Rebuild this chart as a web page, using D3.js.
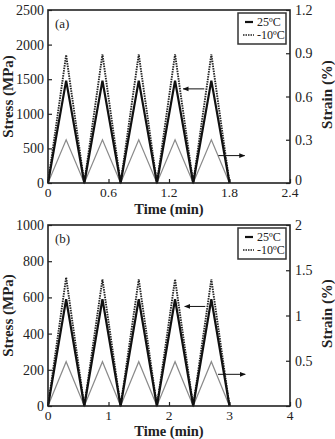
<!DOCTYPE html>
<html>
<head>
<meta charset="utf-8">
<script src="https://cdn.jsdelivr.net/npm/d3@7"></script>
<style>
  body { margin: 0; background: #fff; }
  text { font-family: "Liberation Serif", "DejaVu Serif", serif; fill: #222; }
</style>
</head>
<body>
<div id="chart"></div>
<script>
const width = 335
const height = 439

// panel (a)
const timeA = [0, 0.18, 0.36, 0.54, 0.72, 0.9, 1.08, 1.26, 1.44, 1.62, 1.8]
const stress25A = [0, 1480, 0, 1480, 0, 1480, 0, 1480, 0, 1480, 0]
const stressM10A = [0, 1850, 0, 1860, 0, 1860, 0, 1860, 0, 1860, 0]
const strainA = [0, 0.3, 0, 0.3, 0, 0.3, 0, 0.3, 0, 0.3, 0]
const xTicksA = [0, 0.6, 1.2, 1.8, 2.4]
const yTicksA = [0, 500, 1000, 1500, 2000, 2500]
const y2TicksA = [0, 0.3, 0.6, 0.9, 1.2]

// panel (b)
const timeB = [0, 0.3, 0.6, 0.9, 1.2, 1.5, 1.8, 2.1, 2.4, 2.7, 3.0]
const stress25B = [0, 590, 0, 590, 0, 590, 0, 590, 0, 590, 0]
const stressM10B = [0, 710, 0, 700, 0, 700, 0, 700, 0, 700, 0]
const strainB = [0, 0.49, 0, 0.49, 0, 0.49, 0, 0.49, 0, 0.49, 0]
const xTicksB = [0, 1, 2, 3, 4]
const yTicksB = [0, 200, 400, 600, 800, 1000]
const y2TicksB = [0, 0.5, 1, 1.5, 2]

const legendLabels = ["25ºC", "-10ºC"]

const svg = d3.select("#chart")
    .append("svg")
    .attr("width", width)
    .attr("height", height)

const defs = svg.append("defs")
defs.append("marker")
    .attr("id", "head")
    .attr("viewBox", "0 0 10 10")
    .attr("refX", 9).attr("refY", 5)
    .attr("markerWidth", 6).attr("markerHeight", 6)
    .attr("orient", "auto")
  .append("path")
    .attr("d", "M0,1 L10,5 L0,9 Z")
    .attr("fill", "#111")

function drawPanel(p) {
  const left = 48, right = 290
  const x = d3.scaleLinear().domain([0, p.xMax]).range([left, right])
  const y = d3.scaleLinear().domain([0, p.yMax]).range([p.bottom, p.top])
  const y2 = d3.scaleLinear().domain([0, p.y2Max]).range([p.bottom, p.top])
  const g = svg.append("g")

  // axes, ticks inward
  g.append("g")
    .attr("transform", `translate(0,${p.bottom})`)
    .call(d3.axisTop(x).tickValues(p.xTicks).tickSize(4).tickFormat(""))
  g.append("g")
    .attr("transform", `translate(${left},0)`)
    .call(d3.axisRight(y).tickValues(p.yTicks).tickSize(4).tickFormat(""))
  g.append("g")
    .attr("transform", `translate(${right},0)`)
    .call(d3.axisLeft(y2).tickValues(p.y2Ticks).tickSize(4).tickFormat(""))
  g.selectAll(".domain").remove()
  g.selectAll(".tick line").attr("stroke", "#222").attr("stroke-width", 1.2)

  // tick labels
  g.selectAll(".xl").data(p.xTicks).join("text")
    .attr("x", d => x(d)).attr("y", p.bottom + 14)
    .attr("text-anchor", "middle").attr("font-size", 13.5)
    .text(d => d)
  g.selectAll(".yl").data(p.yTicks).join("text")
    .attr("x", left - 4).attr("y", d => y(d) + 5)
    .attr("text-anchor", "end").attr("font-size", 14)
    .text(d => d)
  g.selectAll(".y2l").data(p.y2Ticks).join("text")
    .attr("x", right + 5).attr("y", d => y2(d) + (d === 0 ? 2 : 5))
    .attr("text-anchor", "start").attr("font-size", 14)
    .text(d => d)

  // titles
  g.append("text")
    .attr("x", (left + right) / 2).attr("y", Math.min(p.bottom + 31, 436))
    .attr("text-anchor", "middle").attr("font-size", 14.5).attr("font-weight", "bold")
    .text("Time (min)")
  g.append("text")
    .attr("transform", `translate(13,${(p.top + p.bottom) / 2}) rotate(-90)`)
    .attr("text-anchor", "middle").attr("font-size", 15).attr("font-weight", "bold")
    .text("Stress (MPa)")
  g.append("text")
    .attr("transform", `translate(332,${(p.top + p.bottom) / 2 - 2}) rotate(-90)`)
    .attr("text-anchor", "middle").attr("font-size", 15).attr("font-weight", "bold")
    .text("Strain (%)")

  // curves
  const line = d3.line().x(d => x(d[0])).y(d => y(d[1]))
  const line2 = d3.line().x(d => x(d[0])).y(d => y2(d[1]))
  g.append("path")
    .attr("d", line2(d3.zip(p.time, p.strain)))
    .attr("fill", "none").attr("stroke", "#8a8a8a").attr("stroke-width", 1.2)
  g.append("path")
    .attr("d", line(d3.zip(p.time, p.stressM10)))
    .attr("fill", "none").attr("stroke", "#222").attr("stroke-width", 1.9)
    .attr("stroke-dasharray", "1.5,1")
  g.append("path")
    .attr("d", line(d3.zip(p.time, p.stress25)))
    .attr("fill", "none").attr("stroke", "#111").attr("stroke-width", 2.2)

  // arrows
  g.append("line")
    .attr("x1", x(p.arrowL[1])).attr("x2", x(p.arrowL[0]))
    .attr("y1", y(p.arrowL[2])).attr("y2", y(p.arrowL[2]))
    .attr("stroke", "#111").attr("stroke-width", 1).attr("marker-end", "url(#head)")
  g.append("line")
    .attr("x1", x(p.arrowR[0])).attr("x2", x(p.arrowR[1]))
    .attr("y1", y2(p.arrowR[2])).attr("y2", y2(p.arrowR[2]))
    .attr("stroke", "#111").attr("stroke-width", 1).attr("marker-end", "url(#head)")

  // frame
  g.append("rect")
    .attr("x", left).attr("y", p.top)
    .attr("width", right - left).attr("height", p.bottom - p.top)
    .attr("fill", "none").attr("stroke", "#222").attr("stroke-width", 1.6)

  // panel letter
  g.append("text")
    .attr("x", 55).attr("y", p.top + 18)
    .attr("font-size", 13)
    .text(p.label)

  // legend
  const lg = g.append("g").attr("transform", `translate(238,${p.top + 3})`)
  lg.append("rect")
    .attr("width", 48).attr("height", 31)
    .attr("fill", "#fff").attr("stroke", "#333").attr("stroke-width", 1.5)
  lg.selectAll("text").data(legendLabels).join("text")
    .attr("x", 19).attr("y", (d, i) => 13 + i * 13)
    .attr("font-size", 12)
    .text(d => d)
  lg.append("line")
    .attr("x1", 7).attr("x2", 15).attr("y1", 9).attr("y2", 9)
    .attr("stroke", "#111").attr("stroke-width", 2.2)
  lg.append("line")
    .attr("x1", 5).attr("x2", 16).attr("y1", 22).attr("y2", 22)
    .attr("stroke", "#222").attr("stroke-width", 1.4).attr("stroke-dasharray", "1.5,1")
}

drawPanel({
  top: 10, bottom: 183, xMax: 2.4, yMax: 2500, y2Max: 1.2,
  time: timeA, stress25: stress25A, stressM10: stressM10A, strain: strainA,
  xTicks: xTicksA, yTicks: yTicksA, y2Ticks: y2TicksA,
  arrowL: [1.34, 1.55, 1360], arrowR: [1.69, 1.95, 0.19], label: "(a)"
})

drawPanel({
  top: 225, bottom: 406, xMax: 4, yMax: 1000, y2Max: 2,
  time: timeB, stress25: stress25B, stressM10: stressM10B, strain: strainB,
  xTicks: xTicksB, yTicks: yTicksB, y2Ticks: y2TicksB,
  arrowL: [2.26, 2.6, 550], arrowR: [2.81, 3.26, 0.35], label: "(b)"
})
</script>
</body>
</html>
